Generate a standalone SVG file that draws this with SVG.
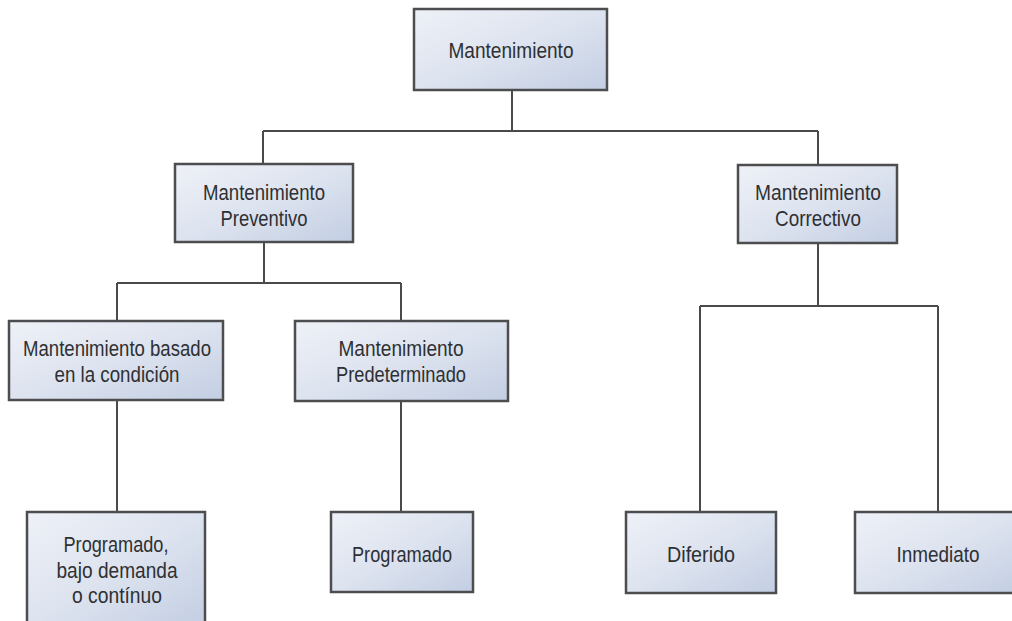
<svg xmlns="http://www.w3.org/2000/svg" width="1012" height="621" viewBox="0 0 1012 621">
<defs>
<linearGradient id="boxfill" x1="0" y1="0" x2="1" y2="1">
<stop offset="0" stop-color="#eef1f7"/>
<stop offset="0.5" stop-color="#dde3ef"/>
<stop offset="1" stop-color="#c3cee3"/>
</linearGradient>
<style>
.box{fill:url(#boxfill);stroke:#4d4d4f;stroke-width:2.5}
.lbl{font-family:"Liberation Sans",Arial,sans-serif;font-size:22px;fill:#2e3033;text-anchor:middle}
.con{fill:none;stroke:#4a4a4a;stroke-width:2}
</style>
</defs>
<rect width="1012" height="621" fill="#ffffff"/>
<g id="connectors">
<path class="con" d="M512,90 V131 M263,131 H818 M263,131 V164 M818,131 V165"/>
<path class="con" d="M264,242 V283 M117,283 H401 M117,283 V321 M401,283 V321"/>
<path class="con" d="M818,243 V306 M700,306 H938 M700,306 V512 M938,306 V512"/>
<path class="con" d="M117,400 V512 M401,401 V512"/>
</g>
<g id="n-mantenimiento">
<rect class="box" x="414" y="9" width="193" height="81"/>
<text class="lbl" x="511" y="58" textLength="125" lengthAdjust="spacingAndGlyphs">Mantenimiento</text>
</g>
<g id="n-preventivo">
<rect class="box" x="175" y="164" width="178" height="78"/>
<text class="lbl" x="264" y="200" textLength="122" lengthAdjust="spacingAndGlyphs">Mantenimiento</text>
<text class="lbl" x="264" y="226" textLength="87" lengthAdjust="spacingAndGlyphs">Preventivo</text>
</g>
<g id="n-correctivo">
<rect class="box" x="738" y="165" width="159" height="78"/>
<text class="lbl" x="818" y="200" textLength="126" lengthAdjust="spacingAndGlyphs">Mantenimiento</text>
<text class="lbl" x="818" y="226" textLength="86" lengthAdjust="spacingAndGlyphs">Correctivo</text>
</g>
<g id="n-condicion">
<rect class="box" x="9" y="321" width="214" height="79"/>
<text class="lbl" x="117" y="356" textLength="188" lengthAdjust="spacingAndGlyphs">Mantenimiento basado</text>
<text class="lbl" x="117" y="382" textLength="125" lengthAdjust="spacingAndGlyphs">en la condición</text>
</g>
<g id="n-predeterminado">
<rect class="box" x="295" y="321" width="213" height="80"/>
<text class="lbl" x="401" y="356" textLength="125" lengthAdjust="spacingAndGlyphs">Mantenimiento</text>
<text class="lbl" x="401" y="382" textLength="130" lengthAdjust="spacingAndGlyphs">Predeterminado</text>
</g>
<g id="n-programado-demanda">
<rect class="box" x="27" y="512" width="178" height="115"/>
<text class="lbl" x="116" y="552" textLength="105" lengthAdjust="spacingAndGlyphs">Programado,</text>
<text class="lbl" x="117" y="578" textLength="121" lengthAdjust="spacingAndGlyphs">bajo demanda</text>
<text class="lbl" x="117" y="603" textLength="90" lengthAdjust="spacingAndGlyphs">o contínuo</text>
</g>
<g id="n-programado">
<rect class="box" x="331" y="512" width="142" height="80"/>
<text class="lbl" x="402" y="562" textLength="100" lengthAdjust="spacingAndGlyphs">Programado</text>
</g>
<g id="n-diferido">
<rect class="box" x="626" y="512" width="150" height="81"/>
<text class="lbl" x="701" y="562" textLength="68" lengthAdjust="spacingAndGlyphs">Diferido</text>
</g>
<g id="n-inmediato">
<rect class="box" x="855" y="512" width="166" height="81"/>
<text class="lbl" x="938" y="562" textLength="83" lengthAdjust="spacingAndGlyphs">Inmediato</text>
</g>
</svg>
